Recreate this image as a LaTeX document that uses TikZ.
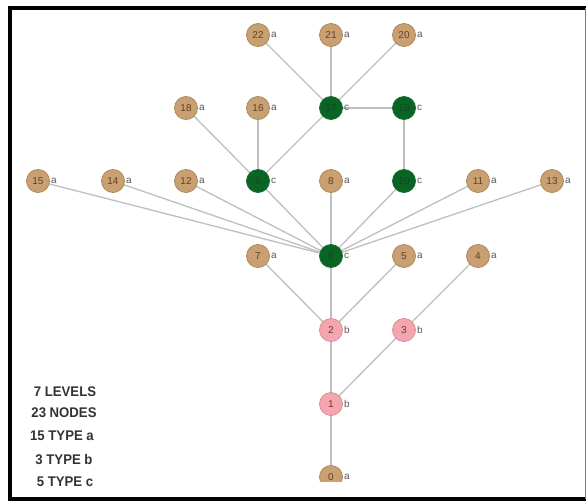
\documentclass[tikz,border=0pt]{standalone}
\usepackage{fontspec}
\setmainfont{Liberation Sans}
\begin{document}
\begin{tikzpicture}[x=1pt,y=-1pt,
  edge/.style={draw=black!25, line width=1.3pt},
  na/.style={circle, minimum size=23pt, inner sep=0pt, fill={rgb,255:red,200;green,160;blue,113}, draw={rgb,255:red,175;green,135;blue,90}, line width=0.8pt, text={rgb,255:red,100;green,65;blue,35}, font=\fontsize{10}{10}\selectfont},
  nb/.style={circle, minimum size=23pt, inner sep=0pt, fill={rgb,255:red,244;green,166;blue,174}, draw={rgb,255:red,220;green,140;blue,150}, line width=0.8pt, text={rgb,255:red,120;green,50;blue,50}, font=\fontsize{10}{10}\selectfont},
  nc/.style={circle, minimum size=23pt, inner sep=0pt, fill={rgb,255:red,10;green,100;blue,35}, draw={rgb,255:red,20;green,110;blue,45}, line width=0.8pt, text={rgb,255:red,20;green,70;blue,30}, font=\fontsize{10}{10}\selectfont},
  tl/.style={anchor=west, inner sep=0pt, text=black!65, font=\fontsize{10}{10}\selectfont},
  info/.style={font=\fontsize{14}{14}\selectfont\bfseries, text=black!80, inner sep=0pt, xscale=0.94}
]
\useasboundingbox (0,0) rectangle (586,501);
\fill[white] (0,0) rectangle (586,501);
\coordinate (p22) at (258,35); \coordinate (p21) at (331,35); \coordinate (p20) at (404,35);
\coordinate (p18) at (186,108); \coordinate (p16) at (258,108); \coordinate (p17) at (331,108); \coordinate (p19) at (404,108);
\coordinate (p15) at (38,181); \coordinate (p14) at (113,181); \coordinate (p12) at (186,181); \coordinate (p9) at (258,181);
\coordinate (p8) at (331,181); \coordinate (p10) at (404,181); \coordinate (p11) at (478,181); \coordinate (p13) at (552,181);
\coordinate (p7) at (258,256); \coordinate (p6) at (331,256); \coordinate (p5) at (404,256); \coordinate (p4) at (478,256);
\coordinate (p2) at (331,330); \coordinate (p3) at (404,330);
\coordinate (p1) at (331,404);
\coordinate (p0) at (331,477);
\foreach \a/\b in {22/17,21/17,20/17,17/19,19/10,18/9,16/9,17/9,15/6,14/6,12/6,9/6,8/6,10/6,11/6,13/6,7/2,6/2,5/2,4/3,2/1,3/1,1/0}
  \draw[edge] (p\a) -- (p\b);
\foreach \n in {22,21,20,18,16,15,14,12,8,11,13,7,5,4}
  {\node[na] (n\n) at (p\n) {\n}; \node[tl] (l\n) at ([xshift=13pt]p\n) {a};}
\foreach \n in {17,19,9,10,6}
  {\node[nc] (n\n) at (p\n) {\n}; \node[tl] (l\n) at ([xshift=13pt]p\n) {c};}
\foreach \n in {2,3,1}
  {\node[nb] (n\n) at (p\n) {\n}; \node[tl] (l\n) at ([xshift=13pt]p\n) {b};}
\begin{scope}
  \clip (0,0) rectangle (586,481);
  \node[na] (n0) at (p0) {0};
\end{scope}
\node[tl] (l0) at ([xshift=13pt]p0) {a};
\draw[draw={rgb,255:red,150;green,170;blue,210}, line width=0.6pt] (320,481) -- (342,481);
\node[info] (t1) at (65,392) {7 LEVELS};
\node[info] (t2) at (64,413) {23 NODES};
\node[info] (t3) at (62,436) {15 TYPE a};
\node[info] (t4) at (64,459) {3 TYPE b};
\node[info] (t5) at (65,482) {5 TYPE c};
\draw[black, line width=4pt] (9.5,501) -- (9.5,7.5) -- (586,7.5);
\draw[black, line width=4pt] (9.5,499) -- (586,499);
\draw[black!50, line width=1pt] (585,7.5) -- (585,499);
\end{tikzpicture}
\end{document}
